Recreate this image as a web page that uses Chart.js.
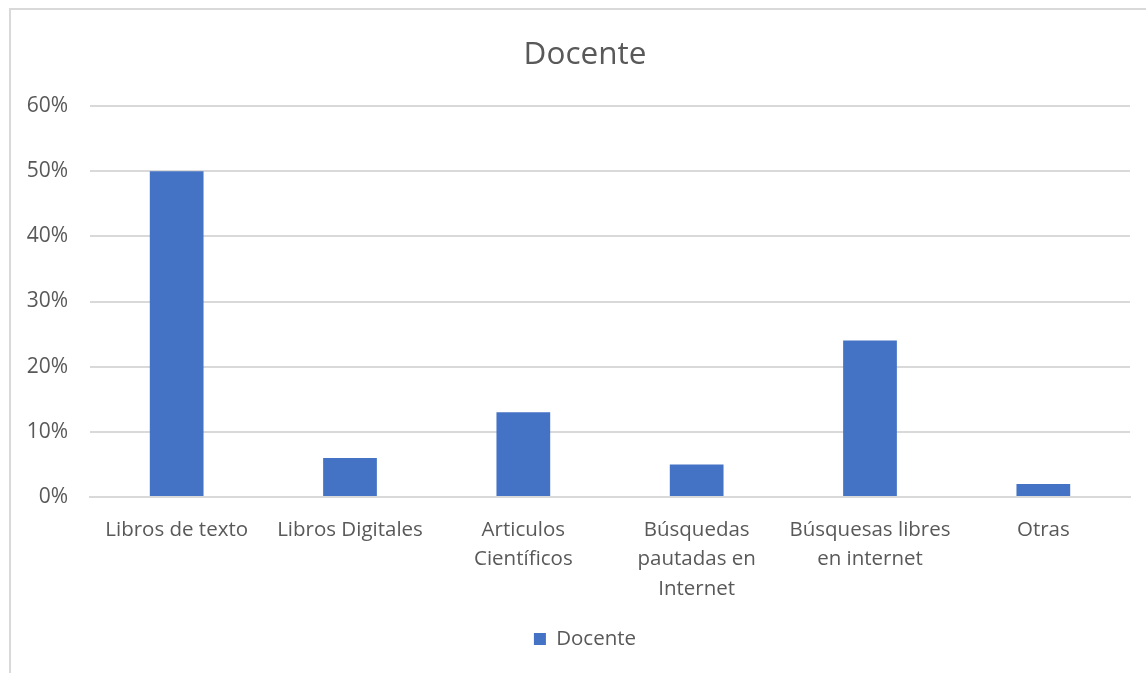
<!DOCTYPE html>
<html>
<head>
<meta charset="utf-8">
<script src="https://cdn.jsdelivr.net/npm/chart.js@4"></script>
<style>
  html, body { margin: 0; padding: 0; background: #fff; overflow: hidden; }
  #frame { position: absolute; left: 9px; top: 8px; width: 1200px; height: 700px; border: 2px solid #d9d9d9; box-sizing: border-box; }
  #chart { position: absolute; left: 0; top: 0; }
</style>
</head>
<body>
<div id="frame"></div>
<!-- canvas is wider than the window so title/legend centre like the original frame -->
<canvas id="chart" width="1186" height="673"></canvas>
<script>
const categories = [
  'Libros de texto',
  'Libros Digitales',
  ['Articulos', 'Científicos'],
  ['Búsquedas', 'pautadas en', 'Internet'],
  ['Búsquesas libres', 'en internet'],
  'Otras'
];
const docente = [50, 6, 13, 5, 24, 2];
const yTicks = [0, 10, 20, 30, 40, 50, 60];

const textColor = '#595959';
const gridColor = '#d9d9d9';
const fontFamily = '"Open Sans", "Noto Sans", sans-serif';

const ctx = document.getElementById('chart').getContext('2d');
new Chart(ctx, {
  type: 'bar',
  data: {
    labels: categories,
    datasets: [{
      label: 'Docente',
      data: docente,
      backgroundColor: '#4472C4',
      categoryPercentage: 1,
      barPercentage: 0.31
    }]
  },
  options: {
    responsive: false,
    animation: false,
    layout: { padding: { left: 0, right: 16, top: 0, bottom: 13.75 } },
    plugins: {
      title: {
        display: true,
        text: 'Docente',
        color: textColor,
        font: { family: fontFamily, size: 31.5, weight: 'normal', lineHeight: 1.2 },
        padding: { top: 36, bottom: 32.2 }
      },
      legend: {
        position: 'bottom',
        labels: {
          color: textColor,
          font: { family: fontFamily, size: 20.5 },
          boxWidth: 12,
          boxHeight: 12,
          padding: 10
        }
      },
      tooltip: { enabled: false }
    },
    scales: {
      x: {
        grid: { display: false, drawTicks: false },
        border: { color: gridColor, width: 2 },
        ticks: {
          color: textColor,
          font: { family: fontFamily, size: 20.5, lineHeight: 1.44 },
          padding: 18,
          maxRotation: 0,
          autoSkip: false
        },
        afterFit: scale => { scale.height = 121.75; }
      },
      y: {
        min: 0,
        max: 60,
        afterBuildTicks: scale => { scale.ticks = yTicks.map(v => ({ value: v })); },
        grid: { color: gridColor, lineWidth: 2, drawTicks: false },
        border: { display: false },
        ticks: {
          color: textColor,
          font: { family: fontFamily, size: 21 },
          padding: 22,
          callback: v => v + '%'
        },
        afterFit: scale => { scale.width = 90; }
      },
      // empty spacer on the right
      spacer: {
        type: 'linear',
        position: 'right',
        grid: { display: false, drawTicks: false },
        border: { display: false },
        ticks: { display: false },
        afterFit: scale => { scale.width = 40; }
      }
    }
  }
});
</script>
</body>
</html>
